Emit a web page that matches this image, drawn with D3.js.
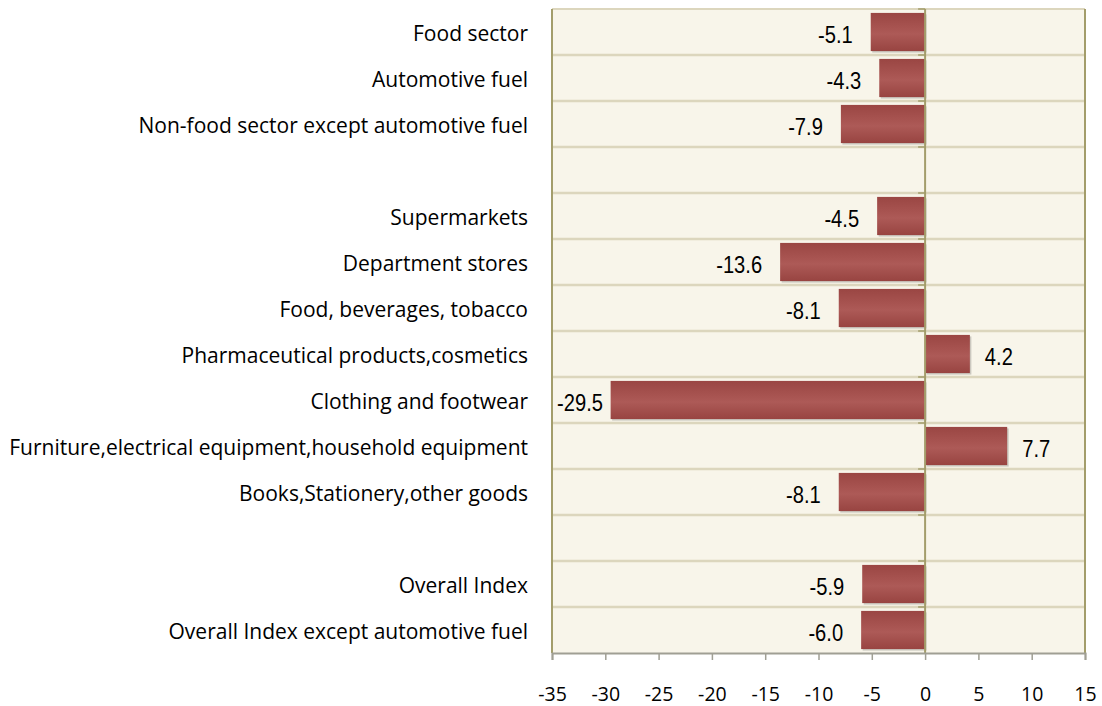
<!DOCTYPE html>
<html>
<head>
<meta charset="utf-8">
<script src="https://cdn.jsdelivr.net/npm/d3@7"></script>
<style>
  body { margin: 0; background: #fff; }
</style>
</head>
<body>
<div id="chart"></div>
<script>
// data, top to bottom ("" rows are the blank spacer rows)
var categories = [
  "Food sector",
  "Automotive fuel",
  "Non-food sector except automotive fuel",
  "",
  "Supermarkets",
  "Department stores",
  "Food, beverages, tobacco",
  "Pharmaceutical products,cosmetics",
  "Clothing and footwear",
  "Furniture,electrical equipment,household equipment",
  "Books,Stationery,other goods",
  " ",
  "Overall Index",
  "Overall Index except automotive fuel"
];
var values = [-5.1, -4.3, -7.9, null, -4.5, -13.6, -8.1, 4.2, -29.5, 7.7, -8.1, null, -5.9, -6.0];
var xTicks = [-35, -30, -25, -20, -15, -10, -5, 0, 5, 10, 15];

var W = 1102, H = 706;
var margin = { top: 9, right: 17, bottom: 53, left: 552 };
var width = W - margin.left - margin.right;
var height = H - margin.top - margin.bottom;

var svg = d3.select("#chart").append("svg")
    .attr("width", W)
    .attr("height", H);

var defs = svg.append("defs");
var grad = defs.append("linearGradient")
    .attr("id", "barGrad")
    .attr("x1", 0).attr("y1", 0).attr("x2", 0).attr("y2", 1);
grad.append("stop").attr("offset", "0%").attr("stop-color", "#9a4643");
grad.append("stop").attr("offset", "40%").attr("stop-color", "#a85451");
grad.append("stop").attr("offset", "55%").attr("stop-color", "#ad5a57");
grad.append("stop").attr("offset", "100%").attr("stop-color", "#984441");

var g = svg.append("g")
    .attr("transform", "translate(" + margin.left + "," + margin.top + ")");

var x = d3.scaleLinear().domain([-35, 15]).range([0, width]);
var y = d3.scaleBand().domain(categories).range([0, height]).paddingInner(0.17).paddingOuter(0.085);
var yb = d3.scaleBand().domain(categories).range([0, height]);

// plot background
g.append("rect")
    .attr("width", width).attr("height", height)
    .attr("fill", "#f8f5ea");

// horizontal grid lines between rows
g.append("g").selectAll("line")
    .data(categories.slice(1))
    .join("line")
    .attr("x1", 0).attr("x2", width)
    .attr("y1", d => yb(d)).attr("y2", d => yb(d))
    .attr("stroke", "#dcd6bd").attr("stroke-width", 2.5);

// top border
g.append("line").attr("x1", 0).attr("x2", width).attr("y1", 0).attr("y2", 0)
    .attr("stroke", "#dcd6bd").attr("stroke-width", 2);

var rows = categories.map((c, i) => ({ c: c, v: values[i] })).filter(d => d.v !== null);

// shadows
g.append("g").selectAll("rect")
    .data(rows)
    .join("rect")
    .attr("x", d => Math.min(x(0), x(d.v)) + 1.5)
    .attr("y", d => y(d.c) + 1.5)
    .attr("width", d => Math.abs(x(d.v) - x(0)))
    .attr("height", y.bandwidth())
    .attr("fill", "#000").attr("opacity", 0.18);

// bars
g.append("g").selectAll("rect")
    .data(rows)
    .join("rect")
    .attr("x", d => Math.min(x(0), x(d.v)))
    .attr("y", d => y(d.c))
    .attr("width", d => Math.abs(x(d.v) - x(0)))
    .attr("height", y.bandwidth())
    .attr("fill", "url(#barGrad)");

// value labels (outside end, kept inside the plot area), condensed
var sx = 0.84;
var fmt = d => d.toFixed(1);
g.append("g").selectAll("text")
    .data(rows)
    .join("text")
    .attr("text-anchor", d => d.v < 0 ? "end" : "start")
    .attr("font-family", "'Liberation Sans', Arial, sans-serif")
    .attr("font-size", 24)
    .attr("fill", "#000")
    .attr("dy", "0.45em")
    .text(d => fmt(d.v))
    .each(function(d) {
        var tx = d.v < 0 ? x(d.v) - 18 : x(d.v) + 15;
        if (d.v < 0) {
            var w = this.getComputedTextLength() * sx;
            if (tx - w < 5) tx = 5 + w;
        }
        var ty = yb(d.c) + yb.bandwidth() / 2;
        d3.select(this).attr("transform", "translate(" + tx + "," + ty + ") scale(" + sx + ",1)");
    });

// zero line (category axis) with small ticks at row boundaries
g.append("g").selectAll("line")
    .data(categories)
    .join("line")
    .attr("x1", x(0) - 7).attr("x2", x(0))
    .attr("y1", d => yb(d)).attr("y2", d => yb(d))
    .attr("stroke", "#a39d6b").attr("stroke-width", 1.5);

g.append("line")
    .attr("x1", x(0)).attr("x2", x(0))
    .attr("y1", 0).attr("y2", height)
    .attr("stroke", "#a39d6b").attr("stroke-width", 2);

// frame left / right
g.append("line").attr("x1", 0).attr("x2", 0).attr("y1", 0).attr("y2", height)
    .attr("stroke", "#a39d6b").attr("stroke-width", 2);
g.append("line").attr("x1", width).attr("x2", width).attr("y1", 0).attr("y2", height)
    .attr("stroke", "#a39d6b").attr("stroke-width", 2);

// x axis
var xAxis = g.append("g")
    .attr("transform", "translate(0," + height + ")")
    .call(d3.axisBottom(x).tickValues(xTicks).tickSize(7).tickFormat(d => String(d)));
xAxis.select(".domain").attr("stroke", "#a09f94").attr("stroke-width", 2);
xAxis.selectAll(".tick line").attr("stroke", "#a09f94").attr("stroke-width", 1.5);
xAxis.selectAll(".tick text")
    .attr("y", 48)
    .attr("dy", 0)
    .attr("font-family", "'Open Sans', 'Noto Sans', sans-serif")
    .attr("font-size", 19.5)
    .attr("fill", "#000");

// category labels
g.append("g").selectAll("text")
    .data(categories.filter(c => c.trim() !== ""))
    .join("text")
    .attr("x", -24)
    .attr("y", d => yb(d) + yb.bandwidth() / 2)
    .attr("dy", "0.45em")
    .attr("text-anchor", "end")
    .attr("font-family", "'Open Sans', 'Noto Sans', sans-serif")
    .attr("font-size", 21)
    .attr("fill", "#000")
    .text(d => d);
</script>
</body>
</html>
